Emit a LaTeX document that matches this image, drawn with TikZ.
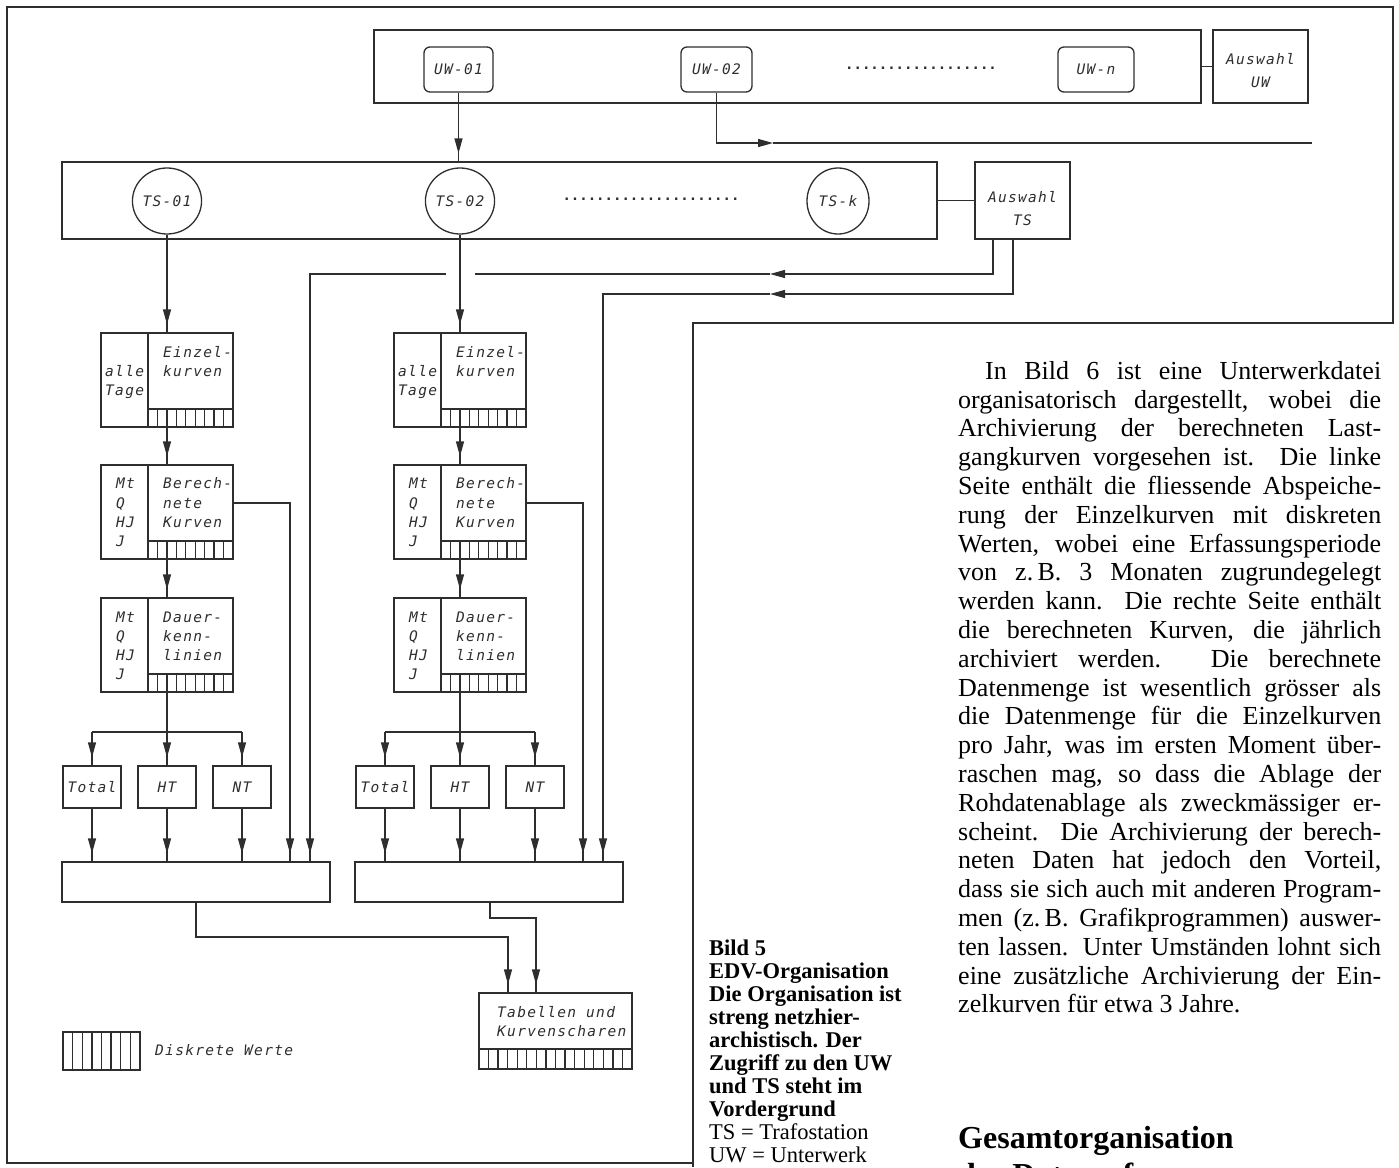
\documentclass[tikz,border=0pt]{standalone}
\usepackage{fontspec}
\setmainfont{Liberation Serif}
\newfontfamily\plotfont[LetterSpace=9]{DejaVu Sans Mono}
\newfontfamily\dotfont{DejaVu Sans Mono}
\usetikzlibrary{arrows.meta,fit,decorations.markings,shapes.geometric}
\definecolor{ink}{HTML}{2E2E2E}
\tikzset{
  Tri/.tip={Triangle[length=15pt,width=8pt]},
  ln/.style={draw=ink, color=ink, line width=1.3pt},
  bx/.style={draw=ink, line width=1.3pt, rectangle, inner sep=0pt},
  rbx/.style={bx, rounded corners=6pt},
  lblf/.style={font=\plotfont\itshape\fontsize{14.5}{23}\selectfont, text=ink},
  lbl/.style={lblf, inner sep=0pt},
  dotsf/.style={font=\dotfont\bfseries\fontsize{14}{14}\selectfont, text=ink, inner sep=0pt},
  tsnode/.style={draw=ink, line width=1.3pt, ellipse, minimum width=62pt, minimum height=66pt, inner sep=0pt, lblf},
  arr/.style={ln, postaction={decorate, decoration={markings, mark=at position -8pt with {\arrow{Tri}}}}},
}
\newcommand\hatchrow[5]{%
  \draw[ln] (#1,#2) -- (#3,#2);
  \pgfmathtruncatemacro\hn{#5-1}%
  \foreach \k in {1,...,\hn}{\pgfmathsetmacro\hx{#1+(#3-(#1))*\k/#5}\draw[ln] (\hx,#2) -- (\hx,#4);}
}
\newcommand\stbox[3]{%
  \pgfmathsetmacro\bxl{#2}\pgfmathsetmacro\bxr{#2+132}\pgfmathsetmacro\bxd{#2+47}%
  \pgfmathsetmacro\bxt{#3}\pgfmathsetmacro\bxb{#3+94}\pgfmathsetmacro\bxs{#3+76}%
  \node[bx, fit={(\bxl,\bxt) (\bxr,\bxb)}] (#1) {};
  \draw[ln] (\bxd,\bxt) -- (\bxd,\bxb);
  \draw[ln] (\bxd,\bxs) -- (\bxr,\bxs);
  \foreach \k in {1,...,8}{\pgfmathsetmacro\hx{\bxd+(\bxr-\bxd)*\k/9}\draw[ln] (\hx,\bxs) -- (\hx,\bxb);}
}
\begin{document}
\begin{tikzpicture}[x=1pt,y=-1pt]
\useasboundingbox (0,0) rectangle (1399,1167);
\begin{scope}
\clip (0,0) rectangle (1399,1167);
% frame
\draw[ln] (693,1167) -- (693,323) -- (1393,323) -- (1393,7) -- (7,7) -- (7,1163) -- (693,1163);
% UW row
\node[bx, fit={(374,30) (1201,103)}] (uwrow) {};
\node[rbx, lblf, minimum width=69pt, minimum height=45pt] (uw1) at (458.5,69.5) {UW-01};
\node[rbx, lblf, minimum width=71pt, minimum height=45pt] (uw2) at (716.5,69.5) {UW-02};
\node[rbx, lblf, minimum width=76pt, minimum height=45pt] (uwn) at (1096,69.5) {UW-n};
\node[dotsf] (uwdots) at (921,68) {..................};
\node[bx, minimum width=95pt, minimum height=73pt] (auswuw) at (1260.5,66.5) {};
\node[lbl, align=center] (auswuwt) at (1260.5,71) {Auswahl\\UW};
\draw[ln] (uwrow.east) -- (auswuw.west);
% TS row
\node[bx, fit={(62,162) (937,239)}] (tsrow) {};
\node[tsnode] (ts1) at (167,201) {TS-01};
\node[tsnode] (ts2) at (460,201) {TS-02};
\node[tsnode] (tsk) at (838,201) {TS-k};
\node[dotsf] (tsdots) at (651,199) {.....................};
\node[bx, minimum width=95pt, minimum height=77pt] (auswts) at (1022.5,200.5) {};
\node[lbl, align=center] (auswtst) at (1022.5,209) {Auswahl\\TS};
\draw[ln] (tsrow.east) -- (auswts.west);
% UW connectors
\draw[arr] (uw1.south) -- (uw1.south |- tsrow.north);
\coordinate (muw) at (773,143);
\coordinate (uwend) at (1312,143);
\draw[ln,-{Tri}] (uw2.south) |- (muw);
\draw[ln] (muw) -- (uwend);
% columns
\foreach \colid/\colx in {1/101,2/394}{
  \stbox{ek\colid}{\colx}{333}
  \stbox{bk\colid}{\colx}{465}
  \stbox{dk\colid}{\colx}{598}
  \node[lbl,anchor=base west] (eka\colid) at (\colx+62,357) {Einzel-};
  \node[lbl,anchor=base west] (ekb\colid) at (\colx+62,376) {kurven};
  \node[lbl,anchor=base west] (ekc\colid) at (\colx+4,376) {alle};
  \node[lbl,anchor=base west] (ekd\colid) at (\colx+4,395) {Tage};
  \node[lbl,anchor=base west] (bka\colid) at (\colx+15,488) {Mt};
  \node[lbl,anchor=base west] (bkb\colid) at (\colx+15,508) {Q};
  \node[lbl,anchor=base west] (bkc\colid) at (\colx+15,527) {HJ};
  \node[lbl,anchor=base west] (bkd\colid) at (\colx+15,546) {J};
  \node[lbl,anchor=base west] (bke\colid) at (\colx+62,488) {Berech-};
  \node[lbl,anchor=base west] (bkf\colid) at (\colx+62,508) {nete};
  \node[lbl,anchor=base west] (bkg\colid) at (\colx+62,527) {Kurven};
  \node[lbl,anchor=base west] (dka\colid) at (\colx+15,622) {Mt};
  \node[lbl,anchor=base west] (dkb\colid) at (\colx+15,641) {Q};
  \node[lbl,anchor=base west] (dkc\colid) at (\colx+15,660) {HJ};
  \node[lbl,anchor=base west] (dkd\colid) at (\colx+15,679) {J};
  \node[lbl,anchor=base west] (dke\colid) at (\colx+62,622) {Dauer-};
  \node[lbl,anchor=base west] (dkf\colid) at (\colx+62,641) {kenn-};
  \node[lbl,anchor=base west] (dkg\colid) at (\colx+62,660) {linien};
  \draw[arr] (ts\colid.south) -- (ek\colid.north);
  \draw[arr] (ek\colid.south) -- (bk\colid.north);
  \draw[arr] (bk\colid.south) -- (dk\colid.north);
  \node[bx, lblf, minimum width=58pt, minimum height=42pt] (tot\colid) at (\colx-9,787) {Total};
  \node[bx, lblf, minimum width=58pt, minimum height=42pt] (ht\colid) at (\colx+66,787) {HT};
  \node[bx, lblf, minimum width=58pt, minimum height=42pt] (nt\colid) at (\colx+141,787) {NT};
  \coordinate (sp\colid) at (\colx+66,732);
  \draw[arr] (dk\colid.south) -- (ht\colid.north);
  \draw[ln] (tot\colid.north |- sp\colid) -- (nt\colid.north |- sp\colid);
  \draw[arr] (tot\colid.north |- sp\colid) -- (tot\colid.north);
  \draw[arr] (nt\colid.north |- sp\colid) -- (nt\colid.north);
  \node[bx, fit={(\colx-39,862) (\colx+229,902)}] (mg\colid) {};
  \draw[arr] (tot\colid.south) -- (tot\colid.south |- mg\colid.north);
  \draw[arr] (ht\colid.south) -- (ht\colid.south |- mg\colid.north);
  \draw[arr] (nt\colid.south) -- (nt\colid.south |- mg\colid.north);
  \coordinate (xb\colid) at (\colx+189,0);
  \draw[arr] ([yshift=9pt]bk\colid.east) -| (xb\colid |- mg\colid.north);
}
% Auswahl TS connectors
\coordinate (cA) at (993,274); \coordinate (mA) at (770,274);
\coordinate (gR) at (475,274); \coordinate (gL) at (446,274); \coordinate (cA2) at (310,274);
\draw[ln,-{Tri}] (auswts.south -| cA) -- (cA) -- (mA);
\draw[ln] (mA) -- (gR);
\draw[arr] (gL) -- (cA2) -- (mg1.north -| cA2);
\coordinate (cB) at (1013,294); \coordinate (mB) at (770,294); \coordinate (cB2) at (603,294);
\draw[ln,-{Tri}] (auswts.south -| cB) -- (cB) -- (mB);
\draw[arr] (mB) -- (cB2) -- (mg2.north -| cB2);
% output
\node[bx, fit={(479,993) (632,1069)}] (tab) {};
\hatchrow{479}{1049}{632}{1069}{16}
\node[lbl, anchor=base west] (taba) at (497,1017) {Tabellen und};
\node[lbl, anchor=base west] (tabb) at (497,1036) {Kurvenscharen};
\coordinate (o1) at (196,937); \coordinate (o1b) at (508,937);
\draw[arr] (mg1.south -| o1) -- (o1) -- (o1b) -- (tab.north -| o1b);
\coordinate (o2) at (490,918); \coordinate (o2b) at (536,918);
\draw[arr] (mg2.south -| o2) -- (o2) -- (o2b) -- (tab.north -| o2b);
% legend
\node[bx, fit={(63,1032) (140,1070)}] (leg) {};
\hatchrow{63}{1032}{140}{1070}{8}
\node[lbl, anchor=base west] (legt) at (155,1055) {Diskrete Werte};
% caption
\node[anchor=north west, inner sep=0pt, align=left, font=\fontsize{22.5}{23}\selectfont\bfseries] (cap) at (709,940)
 {Bild 5\\EDV-Organisation\\Die Organisation ist\\streng netzhier-\\archistisch. Der\\Zugriff zu den UW\\und TS steht im\\Vordergrund\\\mdseries TS = Trafostation\\\mdseries UW = Unterwerk};
% body text
\node[anchor=north west, inner sep=0pt, align=left, font=\fontsize{26}{28.8}\selectfont] (body) at (958,361)
 {\makebox[423pt][s]{\hspace*{27pt}In Bild 6 ist eine Unterwerkdatei}\\
  \makebox[423pt][s]{organisatorisch dargestellt, wobei die}\\
  \makebox[423pt][s]{Archivierung der berechneten Last-}\\
  \makebox[423pt][s]{gangkurven vorgesehen ist. Die linke}\\
  \makebox[423pt][s]{Seite enthält die fliessende Abspeiche-}\\
  \makebox[423pt][s]{rung der Einzelkurven mit diskreten}\\
  \makebox[423pt][s]{Werten, wobei eine Erfassungsperiode}\\
  \makebox[423pt][s]{von z.\,B. 3 Monaten zugrundegelegt}\\
  \makebox[423pt][s]{werden kann. Die rechte Seite enthält}\\
  \makebox[423pt][s]{die berechneten Kurven, die jährlich}\\
  \makebox[423pt][s]{archiviert werden. Die berechnete}\\
  \makebox[423pt][s]{Datenmenge ist wesentlich grösser als}\\
  \makebox[423pt][s]{die Datenmenge für die Einzelkurven}\\
  \makebox[423pt][s]{pro Jahr, was im ersten Moment über-}\\
  \makebox[423pt][s]{raschen mag, so dass die Ablage der}\\
  \makebox[423pt][s]{Rohdatenablage als zweckmässiger er-}\\
  \makebox[423pt][s]{scheint. Die Archivierung der berech-}\\
  \makebox[423pt][s]{neten Daten hat jedoch den Vorteil,}\\
  \makebox[423pt][s]{dass sie sich auch mit anderen Program-}\\
  \makebox[423pt][s]{men (z.\,B. Grafikprogrammen) auswer-}\\
  \makebox[423pt][s]{ten lassen. Unter Umständen lohnt sich}\\
  \makebox[423pt][s]{eine zusätzliche Archivierung der Ein-}\\
  zelkurven für etwa 3 Jahre.};
% heading
\node[anchor=north west, inner sep=0pt, align=left, font=\fontsize{32}{37}\selectfont\bfseries] (head) at (958,1126)
 {Gesamtorganisation\\der Datenerfassung};
\end{scope}
\end{tikzpicture}
\end{document}
